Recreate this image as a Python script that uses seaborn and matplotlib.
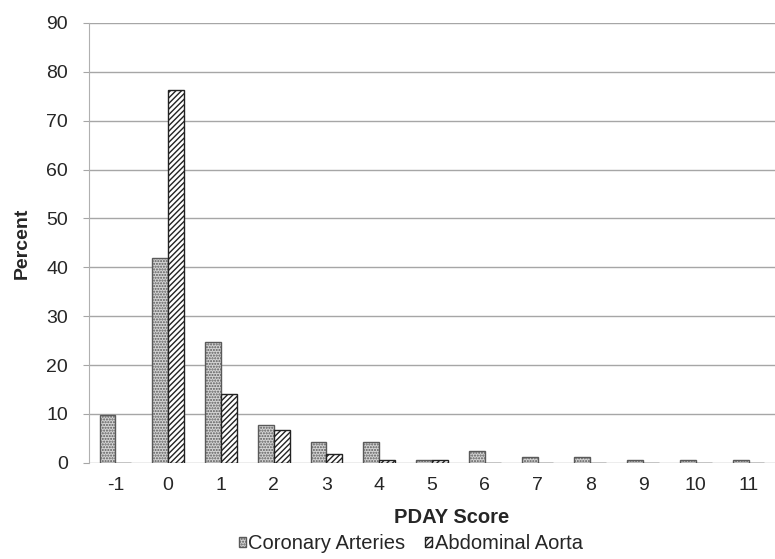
import pandas as pd
import seaborn as sns
import matplotlib.pyplot as plt
from matplotlib.patches import Patch

scores = ["-1", "0", "1", "2", "3", "4", "5", "6", "7", "8", "9", "10", "11"]
coronary = [9.8, 41.8, 24.8, 7.8, 4.2, 4.2, 0.6, 2.4, 1.2, 1.2, 0.6, 0.6, 0.6]
aorta = [0, 76.3, 14.0, 6.7, 1.8, 0.6, 0.6, 0, 0, 0, 0, 0, 0]

df = pd.DataFrame({
    "score": scores * 2,
    "percent": coronary + aorta,
    "site": ["Coronary Arteries"] * len(scores) + ["Abdominal Aorta"] * len(scores),
})

sns.set_style("white")
plt.rcParams['font.family'] = ['Liberation Sans', 'DejaVu Sans']
plt.rcParams['hatch.linewidth'] = 1.0

fig = plt.figure(figsize=(7.75, 5.59), dpi=100)
ax = fig.add_axes([0.1148, 0.1722, 0.8852, 0.7867])

sns.barplot(data=df, x="score", y="percent", hue="site", order=scores,
            width=0.6, ax=ax, legend=False)

styles = [
    dict(facecolor="#d4d4d4", edgecolor="#5a5a5a", hatch="......"),
    dict(facecolor="white", edgecolor="#222222", hatch="//////"),
]
for cont, st in zip(ax.containers, styles):
    for bar in cont:
        bar.set_facecolor(st["facecolor"])
        bar.set_edgecolor(st["edgecolor"])
        bar.set_hatch(st["hatch"])
        bar.set_linewidth(1.0)

ax.set_ylim(0, 90)
ax.set_yticks(range(0, 91, 10))
ax.set_xlim(-0.5, len(scores) - 0.5)
ax.yaxis.grid(True, color="#a6a6a6", linewidth=1.0)
ax.set_axisbelow(True)
for side in ["top", "right", "bottom"]:
    ax.spines[side].set_visible(False)
ax.spines["left"].set_color("#b0b0b0")
ax.tick_params(axis="y", length=4, color="#a6a6a6", labelsize=14, pad=11, left=True)
ax.tick_params(axis="x", length=0, labelsize=14, pad=10)

# excel-style titles, chart was cropped on the right so title sits a bit right of center
ax.set_xlabel("PDAY Score", fontsize=14.5, fontweight="bold", labelpad=10, x=0.529)
ax.set_ylabel("Percent", fontsize=14, fontweight="bold")
ax.yaxis.set_label_coords(-0.085, 0.5)

handles = [Patch(**styles[0], label="Coronary Arteries"),
           Patch(**styles[1], label="Abdominal Aorta")]
fig.legend(handles=handles, loc="lower center", bbox_to_anchor=(0.53, -0.022),
           ncol=2, frameon=False, fontsize=14.5, handlelength=0.35,
           handleheight=0.35, handletextpad=0.12, columnspacing=1.0)

plt.savefig("out.png", dpi=100)
